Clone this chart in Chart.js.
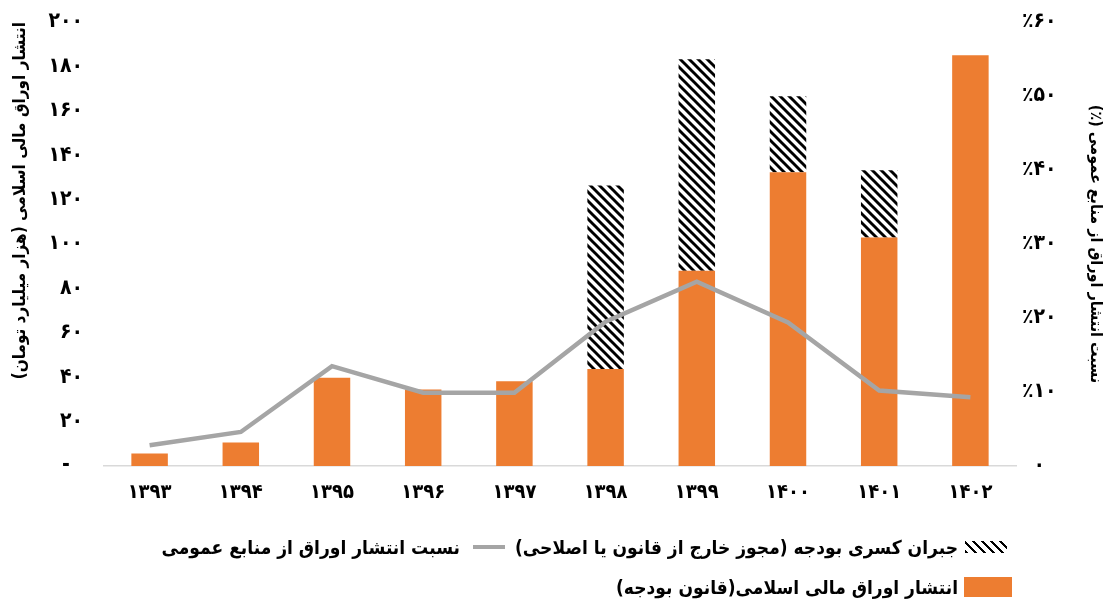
<!DOCTYPE html>
<html><head><meta charset="utf-8">
<script src="https://cdn.jsdelivr.net/npm/chart.js@4/dist/chart.umd.min.js"></script>
<style>
html,body{margin:0;padding:0;background:#fff}
#wrap{position:relative;width:1107px;height:603px}
#c{position:absolute;left:0;top:0}
.lrow{position:absolute;right:95px;display:flex;flex-direction:row;align-items:center;direction:rtl;
  font-family:'DejaVu Sans Condensed','DejaVu Sans',sans-serif;font-weight:bold;font-size:19px;color:#000;white-space:nowrap;height:28px}
.lrow span{display:inline-block}
</style>
</head><body><div id="wrap"><canvas id="c" width="1107" height="603"></canvas><div id="legend"></div></div>
<script>
// ---- data ----
const years = ['۱۳۹۳','۱۳۹۴','۱۳۹۵','۱۳۹۶','۱۳۹۷','۱۳۹۸','۱۳۹۹','۱۴۰۰','۱۴۰۱','۱۴۰۲'];
const budgetIssuance = [5.6, 10.6, 39.7, 34.5, 38.2, 43.7, 87.9, 132.3, 102.9, 185.0];
const deficitCompensation = [null, null, null, null, null, 82.7, 95.3, 34.3, 30.3, null];
const shareOfPublicResources = [2.8, 4.6, 13.5, 9.9, 9.9, 19.5, 24.9, 19.4, 10.2, 9.3];
const leftAxisMax = 200, leftAxisStep = 20;
const rightAxisMax = 60, rightAxisStep = 10;
const labelBudget = 'انتشار اوراق مالی اسلامی(قانون بودجه)';
const labelDeficit = 'جبران کسری بودجه (مجوز خارج از قانون یا اصلاحی)';
const labelShare = 'نسبت انتشار اوراق از منابع عمومی';
const titleLeft = 'انتشار اوراق مالی اسلامی (هزار میلیارد تومان)\u200F';
const titleRight = 'نسبت انتشار اوراق از منابع عمومی (٪)\u200F';

const FONT = "'DejaVu Sans Condensed', 'DejaVu Sans', sans-serif";
const ORANGE = '#ED7D31', GRAY = '#A5A5A5';
const fa = n => String(n).replace(/\d/g, d => '۰۱۲۳۴۵۶۷۸۹'[d]);

function hatchPattern() {
  const s = 9, c = document.createElement('canvas');
  c.width = c.height = s;
  const x = c.getContext('2d');
  x.fillStyle = '#fff'; x.fillRect(0, 0, s, s);
  x.strokeStyle = '#000'; x.lineWidth = 2.9;
  x.beginPath();
  for (const k of [-s, 0, s]) { x.moveTo(k - 2, -2); x.lineTo(k + s + 2, s + 2); }
  x.stroke();
  return x.createPattern(c, 'repeat');
}
const HATCH = hatchPattern();

new Chart(document.getElementById('c'), {
  data: {
    labels: years,
    datasets: [
      { type: 'bar', label: labelBudget, data: budgetIssuance, backgroundColor: ORANGE, yAxisID: 'y', stack: 's', order: 0,
        barPercentage: 0.4, categoryPercentage: 1 },
      { type: 'bar', label: labelDeficit, data: deficitCompensation, backgroundColor: HATCH, yAxisID: 'y', stack: 's', order: 0,
        barPercentage: 0.4, categoryPercentage: 1 },
      { type: 'line', label: labelShare, data: shareOfPublicResources, borderColor: GRAY, backgroundColor: GRAY, borderWidth: 4.5,
        pointRadius: 0, tension: 0, yAxisID: 'y2', order: -1, borderCapStyle: 'butt', borderJoinStyle: 'miter' }
    ]
  },
  options: {
    responsive: false, animation: false, devicePixelRatio: 1,
    layout: { padding: { top: 22, left: 0, right: 0, bottom: 92 } },
    plugins: { tooltip: { enabled: false }, legend: { display: false } },
    scales: {
      x: {
        stacked: true,
        grid: { display: false, drawTicks: false },
        border: { display: true, color: '#D9D9D9', width: 1.5 },
        ticks: { color: '#000', padding: 15, font: { family: FONT, size: 20, weight: 'bold' } },
        afterFit: s => { s.height = 45; }
      },
      y: {
        position: 'left', stacked: true, min: 0, max: leftAxisMax,
        grid: { display: false, drawTicks: false },
        border: { display: false },
        ticks: { stepSize: leftAxisStep, color: '#000', padding: 21, font: { family: FONT, size: 21, weight: 'bold' },
          callback: v => v === 0 ? '-\u00A0\u00A0' : fa(v) },
        title: { display: true, text: titleLeft, color: '#000', align: 'end', padding: { top: 10, bottom: 0 },
          font: { family: FONT, size: 17, weight: 'bold' } },
        afterFit: s => { s.width = 104; s.paddingTop = 0; s.paddingBottom = 0; }
      },
      y2: {
        position: 'right', min: 0, max: rightAxisMax,
        grid: { display: false, drawTicks: false },
        border: { display: false },
        ticks: { stepSize: rightAxisStep, color: '#000', padding: 6, crossAlign: 'center',
          font: { family: FONT, size: 21, weight: 'bold' },
          callback: v => v === 0 ? fa(0) : '٪' + fa(v) },
        title: { display: true, text: titleRight, color: '#000', align: 'center', padding: { top: 2, bottom: 0 },
          font: { family: FONT, size: 16, weight: 'bold' } },
        afterFit: s => { s.width = 91; s.paddingTop = 0; s.paddingBottom = 0; }
      }
    }
  }
});

// ---- HTML legend (real text) ----
const legend = document.getElementById('legend');
function row(top, parts) {
  const r = document.createElement('div');
  r.className = 'lrow'; r.style.top = top + 'px';
  for (const p of parts) r.appendChild(p);
  legend.appendChild(r);
}
function span(text, css) { const s = document.createElement('span'); if (text) s.textContent = text; Object.assign(s.style, css || {}); return s; }
const hatchIcon = span('', { width: '42px', height: '12px', marginRight: '5px', marginLeft: '7px',
  background: 'repeating-linear-gradient(45deg, #000 0 2.2px, #fff 2.2px 6.4px)' });
const lineIcon = span('', { width: '32px', height: '4px', background: GRAY, marginRight: '10px', marginLeft: '13px' });
const boxIcon = span('', { width: '48px', height: '20px', background: ORANGE, marginLeft: '6px' });
row(533, [hatchIcon, span(labelDeficit), lineIcon, span(labelShare)]);
row(573, [boxIcon, span(labelBudget)]);
</script></body></html>
